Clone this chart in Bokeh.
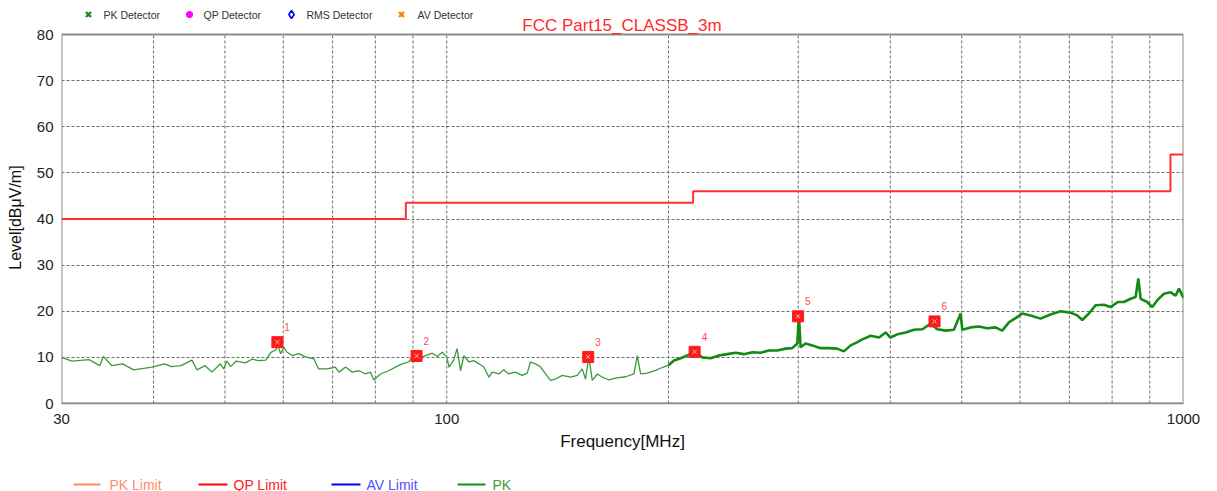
from bokeh.plotting import figure
from bokeh.models import FixedTicker, PrintfTickFormatter, Range1d, ColumnDataSource, LinearScale
from bokeh.layouts import column
from bokeh.embed import file_html
from bokeh.resources import INLINE
from bokeh.core.properties import value

FONT = "Liberation Sans"
W = 1217

# ---- data ----
pk_freq = [30.0, 31.0, 32.7, 33.8, 34.2, 35.1, 36.3, 37.6, 39.8, 41.4, 42.3, 43.6, 45.1, 45.8, 47.0,
           48.0, 49.3, 49.8, 50.3, 50.9, 51.8, 53.3, 54.4, 55.5, 56.8, 57.7, 58.6, 59.0, 59.5, 60.1,
           60.7, 61.7, 63.0, 64.3, 66.0, 67.0, 68.8, 70.6, 71.4, 72.9, 74.4, 76.0, 77.6, 78.8, 79.6,
           81.3, 83.4, 85.2, 87.0, 88.8, 89.9, 91.6, 93.6, 95.6, 97.1, 98.6, 100.0, 100.7, 102.2, 103.3,
           104.4, 105.5, 107.2, 108.8, 110.6, 112.3, 114.1, 115.3, 117.7, 119.5, 121.4, 124.0, 126.6, 128.6, 129.9,
           132.0, 134.1, 136.2, 138.3, 140.5, 143.5, 147.3, 150.4, 152.7, 154.3, 155.9, 157.6, 160.1, 162.6, 166.0,
           169.5, 174.9, 179.5, 181.4, 183.3, 187.1, 192.1, 196.1, 200.0,
           203.4, 207.7, 212.1, 216.5, 222.2, 228.1, 234.1, 240.3, 246.7, 253.1, 259.9, 266.7, 273.7, 281.0, 288.4,
           294.4, 299.1, 300.6, 302.2, 306.9, 313.5, 321.6, 330.1, 338.8, 345.9, 353.4, 360.9, 366.5, 376.3, 386.2,
           394.3, 400.0, 409.0, 419.7, 430.6, 442.2, 453.9, 463.3, 475.5, 487.9, 498.3, 500.9, 514.1, 527.6, 541.6,
           555.7, 567.5, 579.4, 591.6, 604.1, 620.0, 639.7, 660.0, 681.0, 702.6, 717.4, 728.7, 744.0, 759.7, 779.6,
           796.1, 814.6, 830.1, 847.7, 861.1, 868.3, 874.6, 892.9, 907.1, 921.4, 940.8, 960.6, 975.6, 985.8, 1000.0]
pk_level = [10.0, 9.2, 9.5, 8.2, 10.2, 8.2, 8.6, 7.3, 7.9, 8.6, 8.0, 8.2, 9.4, 7.3, 8.2,
            6.8, 8.6, 7.5, 9.2, 8.0, 9.2, 8.8, 9.6, 9.3, 9.4, 11.1, 11.6, 12.6, 10.8, 12.2,
            11.1, 10.4, 10.8, 10.1, 9.7, 7.5, 7.5, 7.9, 6.8, 7.9, 6.8, 7.1, 6.4, 6.8, 5.1,
            6.4, 7.1, 7.9, 8.6, 9.0, 10.2, 9.7, 10.4, 10.9, 10.2, 11.1, 10.1, 7.9, 9.4, 11.9,
            7.1, 10.4, 9.0, 9.3, 8.6, 7.9, 5.7, 6.8, 6.4, 7.3, 6.4, 6.8, 6.1, 6.6, 9.0,
            8.6, 7.9, 6.4, 5.0, 5.3, 6.1, 5.7, 6.1, 7.5, 5.3, 10.1, 5.0, 6.4, 5.7, 5.1,
            5.5, 5.8, 6.4, 10.4, 6.4, 6.6, 7.2, 7.8, 8.3,
            9.3, 9.8, 10.4, 11.2, 10.0, 9.8, 10.4, 10.7, 11.0, 10.7, 11.1, 11.0, 11.5, 11.5, 11.9,
            12.0, 13.0, 19.3, 12.2, 13.0, 12.6, 12.0, 12.0, 11.9, 11.3, 12.6, 13.3, 13.9, 14.7, 14.3,
            15.4, 14.3, 15.0, 15.4, 16.0, 16.1, 17.3, 16.1, 15.8, 16.0, 19.5, 16.0, 16.5, 16.7, 16.3,
            16.5, 15.8, 17.6, 18.5, 19.5, 19.1, 18.4, 19.3, 20.0, 19.7, 19.1, 18.1, 19.5, 21.3, 21.4,
            20.9, 22.0, 22.0, 22.7, 23.1, 27.1, 22.7, 22.0, 20.9, 22.4, 23.8, 24.1, 23.4, 24.9, 22.9]

limit_edges = [30, 88, 216, 960, 1000]
limit_levels = [40, 43.5, 46, 54]

marker_freq = [58.9, 91.0, 155.6, 217.0, 299.8, 459.3]
marker_level = [13.3, 10.3, 10.1, 11.2, 18.9, 17.8]
marker_ids = ["1", "2", "3", "4", "5", "6"]

x_min, x_max = 30, 1000
y_min, y_max = 0, 80
x_ticks = [30, 100, 1000]
x_grid = [40, 50, 60, 70, 80, 90, 100, 200, 300, 400, 500, 600, 700, 800, 900]
y_ticks = [0, 10, 20, 30, 40, 50, 60, 70, 80]

title_text = "FCC Part15_CLASSB_3m"
x_label = "Frequency[MHz]"
y_label = "Level[dBμV/m]"

detector_names = ["PK Detector", "QP Detector", "RMS Detector", "AV Detector"]
detector_markers = ["x", "asterisk", "diamond", "x"]
detector_colors = ["#1a8a1a", "#ff00ff", "#0000ff", "#ff8000"]

limit_names = ["PK Limit", "QP Limit", "AV Limit", "PK"]
limit_line_colors = ["#ff8c5a", "#ff0000", "#0000ff", "#1a8a1a"]
limit_text_colors = ["#ff8c6a", "#ff2020", "#5050ff", "#3c9c3c"]

# ---- layout (page pixels) ----
DATA_TOP, DATA_BOT = 34, 403    # page y of level 80 and level 0
MAIN_BB = 29                    # room for x tick labels
MAIN_H = DATA_BOT + MAIN_BB
BOT_H = 491 - MAIN_H
FRAME_L, FRAME_R = 61, 1183     # strip frame is aligned with the main frame
det_key_x = [88, 189, 291, 401]
det_text_x = [103, 203, 306, 417]
det_y = 14
title_xy = (621.5, 25)
lim_line_x0 = [73, 198, 331, 457]
lim_line_x1 = [100, 227, 360, 485]
lim_text_x = [109, 233, 366, 492]
lim_y = 484
xlabel_xy = (622, 441)

# ---- main chart (frame reaches the top of the page to hold title + detector key) ----
y_top = y_max * DATA_BOT / (DATA_BOT - DATA_TOP)
p = figure(width=W, height=MAIN_H, x_axis_type="log", x_range=Range1d(x_min, x_max),
           y_range=Range1d(y_min, y_top), output_backend="svg", toolbar_location=None,
           min_border_left=FRAME_L, min_border_right=W - FRAME_R, min_border_top=0,
           min_border_bottom=MAIN_BB)
p.background_fill_color = "white"
p.border_fill_color = "white"
p.outline_line_color = None
p.extra_x_ranges = {"px": Range1d(FRAME_L, FRAME_R)}
p.extra_x_scales = {"px": LinearScale()}
p.extra_y_ranges = {"py": Range1d(DATA_BOT, 0)}
p.extra_y_scales = {"py": LinearScale()}

for ax in (p.xaxis[0], p.yaxis[0]):
    ax.major_tick_in = 0
    ax.major_tick_out = 0
    ax.minor_tick_line_color = None
    ax.major_label_text_font = FONT
    ax.major_label_text_font_size = "15px"
    ax.major_label_text_color = "#222222"
p.xaxis.axis_line_color = "#8a8a8a"
p.xaxis.axis_line_width = 1.5
p.yaxis.axis_line_color = None

p.xaxis.ticker = FixedTicker(ticks=x_ticks)
p.xaxis.formatter = PrintfTickFormatter(format="%d")
p.xaxis.major_label_standoff = 10
p.yaxis.ticker = FixedTicker(ticks=y_ticks)
p.yaxis.major_label_standoff = 8
# trailing no-break spaces move the centred label down to the data-area centre
p.yaxis.axis_label = y_label + "\u00a0" * 7
p.yaxis.axis_label_text_font = FONT
p.yaxis.axis_label_text_font_size = "16px"
p.yaxis.axis_label_text_font_style = "normal"
p.yaxis.axis_label_text_color = "#111111"
p.yaxis.axis_label_standoff = 10

p.xgrid.visible = False
p.ygrid.ticker = FixedTicker(ticks=y_ticks[1:-1])
p.ygrid.grid_line_color = "#555555"
p.ygrid.grid_line_dash = "3 2"
p.ygrid.grid_line_alpha = 0.85
p.segment(x0=x_grid, y0=[y_min] * len(x_grid), x1=x_grid, y1=[y_max] * len(x_grid),
          line_color="#555555", line_dash="3 2", line_width=1, line_alpha=0.85)
p.quad(left=[x_min], right=[x_max], bottom=[y_min], top=[y_max], fill_color=None,
       line_color="#8a8a8a", line_width=2)

lim_x, lim_y_vals = [], []
for i, lv in enumerate(limit_levels):
    lim_x += [limit_edges[i], limit_edges[i + 1]]
    lim_y_vals += [lv, lv]
p.line(lim_x, lim_y_vals, line_color="#ff3030", line_width=2)

split = pk_freq.index(200.0)
p.line(pk_freq[:split + 1], pk_level[:split + 1], line_color="#3a9a3a", line_width=1.3)
p.line(pk_freq[split:], pk_level[split:], line_color="#138a13", line_width=2.6)

msrc = ColumnDataSource(dict(f=marker_freq, l=marker_level, t=marker_ids))
p.scatter("f", "l", source=msrc, marker="square", size=11, fill_color="#ff1a1a", line_color="#ff1a1a")
p.scatter("f", "l", source=msrc, marker="x", size=6, line_color="#ffb8b8", line_width=1)
p.text("f", "l", text="t", source=msrc, x_offset=7, y_offset=-15, text_font=value(FONT),
       text_font_size="10px", text_color="#ff4a4a", text_baseline="middle")

# title and detector key (page-pixel coordinates through the extra ranges)
p.text([title_xy[0]], [title_xy[1]], text=[title_text], x_range_name="px", y_range_name="py",
       text_font=value(FONT), text_font_size="17px", text_color="#ff2a2a",
       text_baseline="middle", text_align="center")
for i, name in enumerate(detector_names):
    if detector_markers[i] == "diamond":
        p.scatter([det_key_x[i]], [det_y], marker="diamond", size=8, fill_color=None,
                  line_color=detector_colors[i], line_width=1.6, x_range_name="px", y_range_name="py")
    else:
        p.scatter([det_key_x[i]], [det_y], marker=detector_markers[i], size=7,
                  line_color=detector_colors[i], line_width=2.4, x_range_name="px", y_range_name="py")
p.text(det_text_x, [det_y] * 4, text=detector_names, x_range_name="px", y_range_name="py",
       text_font=value(FONT), text_font_size="10.5px", text_color="#333333",
       text_baseline="middle", text_align="left")

# ---- bottom strip: x label + limit legend ----
bot = figure(width=W, height=BOT_H, x_range=Range1d(FRAME_L, FRAME_R), y_range=Range1d(491, MAIN_H),
             output_backend="svg", toolbar_location=None,
             min_border_left=FRAME_L, min_border_right=W - FRAME_R, min_border_top=0, min_border_bottom=0,
             x_axis_location=None, y_axis_location=None)
bot.grid.visible = False
bot.outline_line_color = None
bot.background_fill_color = "white"
bot.border_fill_color = "white"
bot.text([xlabel_xy[0]], [xlabel_xy[1]], text=[x_label], text_font=value(FONT), text_font_size="17px",
         text_color="#111111", text_baseline="middle", text_align="center")
bot.segment(x0=lim_line_x0, y0=[lim_y] * 4, x1=lim_line_x1, y1=[lim_y] * 4,
            line_color=limit_line_colors, line_width=2)
bot.text(lim_text_x, [lim_y] * 4, text=limit_names, text_font=value(FONT), text_font_size="14px",
         text_color=limit_text_colors, text_baseline="middle", text_align="left")

layout = column(p, bot, spacing=0)
open("out.html", "w").write(file_html(layout, INLINE))
